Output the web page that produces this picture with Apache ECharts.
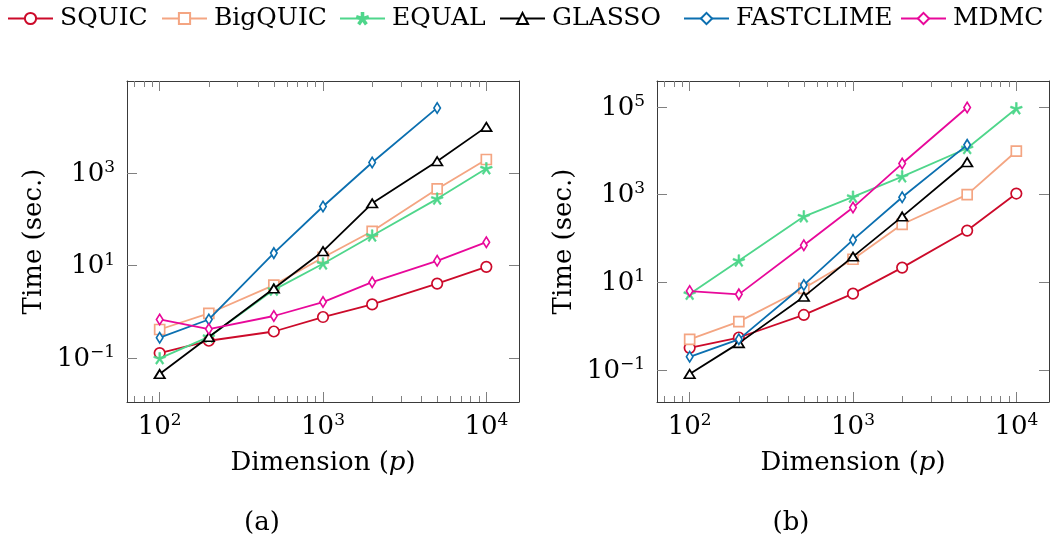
<!DOCTYPE html>
<html><head><meta charset="utf-8">
<script src="https://cdn.jsdelivr.net/npm/echarts@6/dist/echarts.min.js"></script>
<style>html,body{margin:0;padding:0;background:#fff}#c{width:1059px;height:548px}</style>
</head><body><div id="c"></div>
<script>
// ---------------- data ----------------
const dimensions = [100, 200, 500, 1000, 2000, 5000, 10000];
const methodNames = ['SQUIC', 'BigQUIC', 'EQUAL', 'GLASSO', 'FASTCLIME', 'MDMC'];

// panel (a)
const squicA     = [0.13, 0.24, 0.38, 0.78, 1.46, 4.1, 9.4];
const bigquicA   = [0.42, 0.93, 3.8, 15, 55, 450, 1940];
const equalA     = [0.10, 0.29, 3.0, 11, 44, 275, 1240];
const glassoA    = [0.046, 0.29, 3.2, 20.5, 220, 1780, 9800];
const fastclimeA = [0.28, 0.69, 18.6, 188, 1670, 25100, null];
const mdmcA      = [0.69, 0.43, 0.82, 1.64, 4.4, 12.7, 32];

// panel (b)
const squicB     = [0.32, 0.55, 1.8, 5.5, 21.6, 151, 1055];
const bigquicB   = [0.5, 1.27, 7.3, 33.5, 210, 1000, 9750];
const equalB     = [5.4, 31, 315, 885, 2570, 11400, 91700];
const glassoB    = [0.081, 0.41, 4.7, 38.5, 315, 5470, null];
const fastclimeB = [0.2, 0.5, 8.7, 92.5, 869, 13600, null];
const mdmcB      = [6.3, 5.3, 70, 505, 5100, 96600, null];

// tick values
const xMajorTicks = [100, 1000, 10000];
const xMinorTicks = [70, 80, 90, 200, 300, 400, 500, 600, 700, 800, 900,
                     2000, 3000, 4000, 5000, 6000, 7000, 8000, 9000];
const yTicksA = [0.1, 10, 1000];
const yTicksB = [0.1, 10, 1000, 100000];

// axis ranges (log10 space)
const xRange = [1.8, 4.2];
const yRangeA = [-1.94, 4.98];
const yRangeB = [-1.73, 5.59];

// ---------------- styles ----------------
const FONT = '"DejaVu Serif", serif';
const FRAME = '#3a3a3a';
const TICK = '#808080';
const colors = {
  SQUIC: '#cc0a2a', BigQUIC: '#f4a582', EQUAL: '#4fd68b',
  GLASSO: '#000000', FASTCLIME: '#0b6fb0', MDMC: '#e8089a'
};

// asterisk-like star path (5 arms)
function starPath() {
  const w = 0.14;
  let d = '';
  for (let k = 0; k < 5; k++) {
    const a = (90 + 72 * k) * Math.PI / 180;
    const dx = Math.cos(a), dy = -Math.sin(a);
    const px = -dy * w, py = dx * w;
    const pts = [[px, py], [dx + px, dy + py], [dx - px, dy - py], [-px, -py]];
    d += 'M' + pts.map(p => p[0].toFixed(3) + ' ' + p[1].toFixed(3)).join(' L') + ' Z ';
  }
  return 'path://' + d;
}
const markers = {
  SQUIC: { symbol: 'circle', size: 10.5, fill: '#fff' },
  BigQUIC: { symbol: 'rect', size: 10, fill: '#fff' },
  EQUAL: { symbol: starPath(), size: 12, fill: null },
  GLASSO: { symbol: 'triangle', size: [10.5, 8.5], fill: '#fff' },
  FASTCLIME: { symbol: 'diamond', size: [6.5, 10.5], fill: '#fff' },
  MDMC: { symbol: 'diamond', size: [6.5, 10.5], fill: '#fff' }
};

const log10 = Math.log10;
function expLabel(v) {
  const e = Math.round(v);
  return '{b|10}{sup|' + (e < 0 ? '\u2212' + (-e) : e) + '}';
}
const labelRich = {
  b: { fontSize: 26, fontFamily: FONT, color: '#000', verticalAlign: 'bottom', lineHeight: 28, padding: [4, 0, 0, 0] },
  sup: { fontSize: 17, fontFamily: FONT, color: '#000', verticalAlign: 'top', lineHeight: 18 }
};

const grids = [
  { left: 127, top: 81, width: 392, height: 321 },
  { left: 657, top: 81, width: 392, height: 321 }
];

const xAxes = [], yAxes = [], series = [];

function addPanel(gi, yRange, yTicks, panelData) {
  const xBase = {
    type: 'value', gridIndex: gi, min: xRange[0], max: xRange[1],
    splitLine: { show: false },
    axisLine: { show: true, onZero: false, lineStyle: { color: FRAME, width: 1 } }
  };
  const majT = { show: true, inside: true, length: 10, customValues: xMajorTicks.map(log10), lineStyle: { color: TICK, width: 1 } };
  const minT = { show: true, inside: true, length: 6, customValues: xMinorTicks.map(log10), lineStyle: { color: TICK, width: 1 } };
  const xi = xAxes.length;
  xAxes.push(Object.assign({}, xBase, {
    position: 'bottom', axisTick: majT,
    axisLabel: { show: true, customValues: xMajorTicks.map(log10), formatter: expLabel, margin: 10,
      fontFamily: FONT, fontSize: 26, color: '#000', rich: labelRich },
    name: 'Dimension ({it|p})', nameLocation: 'middle', nameGap: 48,
    nameTextStyle: { fontFamily: FONT, fontSize: 26, color: '#000',
      rich: { it: { fontFamily: FONT, fontSize: 26, fontStyle: 'italic', color: '#000' } } }
  }));
  xAxes.push(Object.assign({}, xBase, { position: 'bottom', axisLine: { show: false, onZero: false }, axisTick: minT, axisLabel: { show: false } }));
  xAxes.push(Object.assign({}, xBase, { position: 'top', axisTick: majT, axisLabel: { show: false } }));
  xAxes.push(Object.assign({}, xBase, { position: 'top', axisLine: { show: false, onZero: false }, axisTick: minT, axisLabel: { show: false } }));

  const yBase = {
    type: 'value', gridIndex: gi, min: yRange[0], max: yRange[1],
    splitLine: { show: false },
    axisLine: { show: true, onZero: false, lineStyle: { color: FRAME, width: 1 } },
    axisTick: { show: true, inside: true, length: 10, customValues: yTicks.map(log10), lineStyle: { color: TICK, width: 1 } }
  };
  const yi = yAxes.length;
  yAxes.push(Object.assign({}, yBase, {
    position: 'left',
    axisLabel: { show: true, customValues: yTicks.map(log10), formatter: expLabel, margin: 12,
      fontFamily: FONT, fontSize: 26, color: '#000', rich: labelRich },
    name: 'Time (sec.)', nameLocation: 'middle', nameGap: 80, nameRotate: 90,
    nameTextStyle: { fontFamily: FONT, fontSize: 26, color: '#000' }
  }));
  yAxes.push(Object.assign({}, yBase, { position: 'right', axisLabel: { show: false } }));

  methodNames.forEach((name, i) => {
    const vals = panelData[i];
    const pts = [];
    dimensions.forEach((p, j) => { if (vals[j] != null) pts.push([log10(p), log10(vals[j])]); });
    const m = markers[name];
    series.push({
      type: 'line', name: name, xAxisIndex: xi, yAxisIndex: yi, data: pts,
      symbol: m.symbol, symbolSize: m.size, showAllSymbol: true,
      lineStyle: { color: colors[name], width: 1.8 },
      itemStyle: { color: m.fill || colors[name], borderColor: colors[name], borderWidth: m.fill ? 1.7 : 0.6, opacity: 1 },
      emphasis: { disabled: true }, animation: false, z: 2 + i
    });
  });
}

addPanel(0, yRangeA, yTicksA, [squicA, bigquicA, equalA, glassoA, fastclimeA, mdmcA]);
addPanel(1, yRangeB, yTicksB, [squicB, bigquicB, equalB, glassoB, fastclimeB, mdmcB]);

const legendLefts = [7, 161, 339, 499, 683, 900];
const legends = methodNames.map((n, i) => ({
  data: [n], left: legendLefts[i], top: 6, itemWidth: 45, itemHeight: 14, itemGap: 0,
  selectedMode: false, padding: 0,
  textStyle: { fontFamily: FONT, fontSize: 25, color: '#000', padding: [0, 0, 0, 2] }
}));

const chart = echarts.init(document.getElementById('c'), null, { renderer: 'canvas' });
chart.setOption({
  animation: false,
  backgroundColor: '#fff',
  grid: grids,
  xAxis: xAxes,
  yAxis: yAxes,
  legend: legends,
  series: series,
  graphic: [
    { type: 'text', x: 262, y: 523, style: { text: '(a)', font: '26px "DejaVu Serif"', fill: '#000', align: 'center', verticalAlign: 'middle' } },
    { type: 'text', x: 791, y: 523, style: { text: '(b)', font: '26px "DejaVu Serif"', fill: '#000', align: 'center', verticalAlign: 'middle' } }
  ]
});
</script></body></html>
